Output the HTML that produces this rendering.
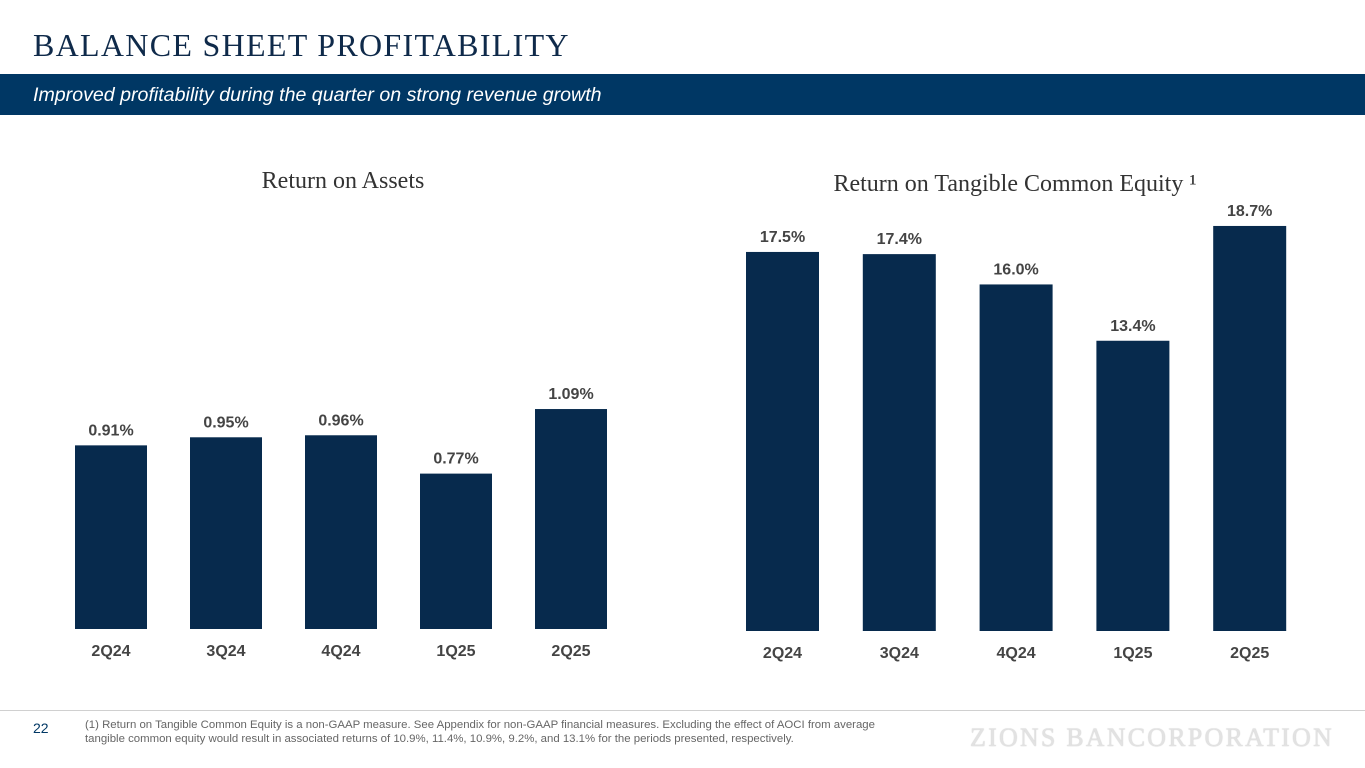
<!DOCTYPE html>
<html><head><meta charset="utf-8"><style>
body{margin:0;width:1365px;height:768px;background:#fff;position:relative;overflow:hidden;font-family:"Liberation Sans",sans-serif}
.abs{position:absolute}
</style></head><body>
<div class="abs" style="left:33px;top:27px;font-family:'Liberation Serif',serif;font-size:32px;color:#0f2a4a;letter-spacing:1.3px;white-space:nowrap">BALANCE SHEET PROFITABILITY</div>
<div class="abs" style="left:0;top:74px;width:1365px;height:41px;background:#003764"></div>
<div class="abs" style="left:33px;top:84px;font-style:italic;font-size:19.6px;color:#fff;white-space:nowrap">Improved profitability during the quarter on strong revenue growth</div>
<svg class="abs" style="left:0;top:0" width="1365" height="768" id="chart"></svg>
<div class="abs" style="left:0;top:710px;width:1365px;height:1px;background:#d0d0d0"></div>
<div class="abs" style="left:33px;top:720px;font-size:14px;color:#003764">22</div>
<div class="abs" style="left:85px;top:718px;font-size:11.4px;color:#666;line-height:14px;width:900px;white-space:nowrap">(1) Return on Tangible Common Equity is a non-GAAP measure. See Appendix for non-GAAP financial measures. Excluding the effect of AOCI from average<br>tangible common equity would result in associated returns of 10.9%, 11.4%, 10.9%, 9.2%, and 13.1% for the periods presented, respectively.</div>
<div class="abs" style="left:970px;top:723px;font-family:'Liberation Serif',serif;font-size:26px;color:#e2e2e2;letter-spacing:2.2px;white-space:nowrap;text-shadow:0 0 1px #bbb">ZIONS BANCORPORATION</div>
<script>
const categories=["2Q24","3Q24","4Q24","1Q25","2Q25"];
const roaValues=[0.91,0.95,0.96,0.77,1.09];
const roaLabels=["0.91%","0.95%","0.96%","0.77%","1.09%"];
const rotceValues=[17.5,17.4,16.0,13.4,18.7];
const rotceLabels=["17.5%","17.4%","16.0%","13.4%","18.7%"];
const svg=document.getElementById('chart');
const NS='http://www.w3.org/2000/svg';
function el(t,a,txt){const e=document.createElementNS(NS,t);for(const k in a)e.setAttribute(k,a[k]);if(txt!==undefined)e.textContent=txt;svg.appendChild(e);return e;}
function drawChart(cfg,vals,labs,prefix){
  const y=v=>cfg.base-v*cfg.scale;
  const t=el('text',{x:cfg.titleX,y:cfg.titleY,'text-anchor':'middle','font-family':'Liberation Serif, serif','font-size':24,fill:'#333'},cfg.title);
  
  
  vals.forEach((v,i)=>{
    const x=cfg.x0+i*cfg.step;
    const r=el('rect',{x:x,y:y(v),width:cfg.w,height:cfg.base-y(v),fill:'#072a4d'});
    
    
    const l=el('text',{x:x+cfg.w/2,y:y(v)-10,'text-anchor':'middle','font-size':16,'font-weight':'bold',fill:'#444'},labs[i]);
    
    
    const c=el('text',{x:x+cfg.w/2,y:cfg.base+27,'text-anchor':'middle','font-size':16,'font-weight':'bold',fill:'#444'},categories[i]);
    
    
  });
}
drawChart({base:629,scale:201.8,x0:75,step:115,w:72,title:'Return on Assets',titleX:343,titleY:188},roaValues,roaLabels,'roa');
drawChart({base:631,scale:21.66,x0:746,step:116.8,w:73,title:'Return on Tangible Common Equity \u00b9',titleX:1015,titleY:191},rotceValues,rotceLabels,'rotce');
</script>
</body></html>
